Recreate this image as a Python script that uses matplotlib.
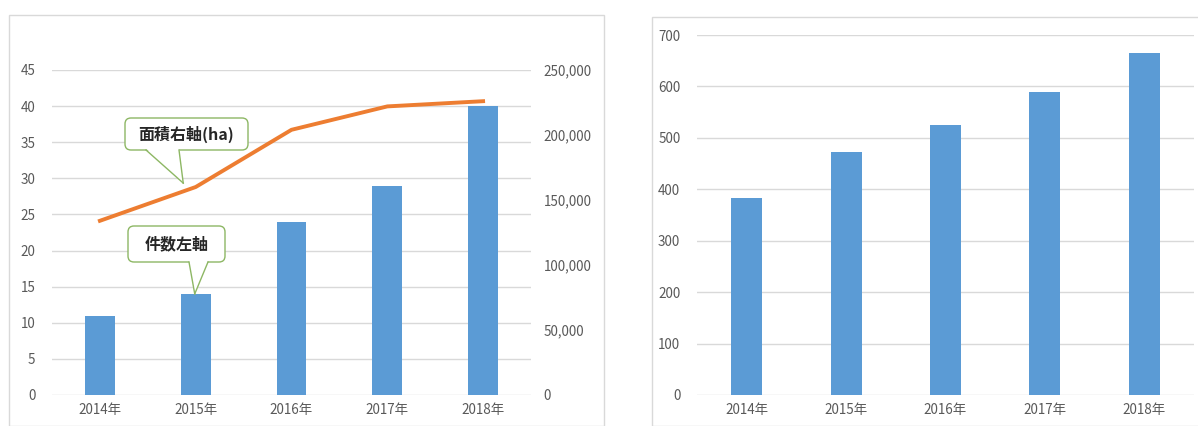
import matplotlib.pyplot as plt
from matplotlib.patches import Rectangle, FancyBboxPatch, Polygon
from matplotlib.lines import Line2D
from matplotlib.transforms import IdentityTransform
from matplotlib.ticker import FuncFormatter
import numpy as np

plt.rcParams['font.family'] = ['Noto Sans CJK JP', 'DejaVu Sans']

years = ['2014年', '2015年', '2016年', '2017年', '2018年']
counts = [11, 14, 24, 29, 40]                          # 件数 (左軸)
area = [134000, 160000, 204000, 222000, 226000]        # 面積 ha (右軸)
right_values = [384, 473, 525, 589, 665]

bar_color = '#5B9BD5'
line_color = '#ED7D31'
grid_color = '#D9D9D9'
text_color = '#595959'
callout_edge = '#8DB764'

fig = plt.figure(figsize=(11.98, 4.26), dpi=100)
W, H = 1198, 426
px = IdentityTransform()  # 画素座標 (dpi=100)

# 外枠
fig.patches.append(Rectangle((9 / W, 0), 595 / W, (H - 15) / H, transform=fig.transFigure,
                             fill=False, ec=grid_color, lw=1))
fig.patches.append(Rectangle((652 / W, 0), 560 / W, (H - 17) / H, transform=fig.transFigure,
                             fill=False, ec=grid_color, lw=1))

x = np.arange(len(years))


def style_axes(a):
    for s in a.spines.values():
        s.set_visible(False)
    a.tick_params(length=0, colors=text_color, labelsize=9.7)
    a.yaxis.grid(True, color=grid_color, lw=1)
    a.set_axisbelow(True)


def callout(text, box, base, tip):
    """Excel風の吹き出し。box=(x0, y0, w, h) 画素, base=(x左, x右), tip=画素座標"""
    x0, y0, w, h = box
    fig.add_artist(FancyBboxPatch((x0, y0), w, h, boxstyle='round,pad=0,rounding_size=6',
                                  fc='white', ec=callout_edge, lw=1, transform=px, zorder=5))
    fig.add_artist(Polygon([(base[0], y0 + 1.5), (base[1], y0 + 1.5), tip], closed=True,
                           fc='white', ec='none', transform=px, zorder=6))
    for bx_ in base:
        fig.add_artist(Line2D([bx_, tip[0]], [y0, tip[1]], color=callout_edge, lw=1,
                              transform=px, zorder=6))
    fig.text(x0 + w / 2, y0 + h / 2, text, transform=px, ha='center', va='center',
             fontsize=11.5, fontweight='bold', color='#262626', zorder=7)


# ---- 左のグラフ ----
ax = fig.add_axes([52 / W, 31 / H, 479 / W, 325 / H])
style_axes(ax)
ax.bar(x, counts, width=0.31, color=bar_color)
ax.set_ylim(0, 45)
ax.set_yticks(np.arange(0, 46, 5))
ax.set_xlim(-0.5, len(years) - 0.5)
ax.set_xticks(x)
ax.set_xticklabels(years)
ax.tick_params(axis='y', pad=12)
ax.tick_params(axis='x', pad=6)

ax2 = ax.twinx()
for s in ax2.spines.values():
    s.set_visible(False)
ax2.plot(x, area, color=line_color, lw=2.8, zorder=3)
ax2.set_ylim(0, 250000)
ax2.set_xlim(-0.5, len(years) - 0.5)
ax2.set_yticks(np.arange(0, 250001, 50000))
ax2.yaxis.set_major_formatter(FuncFormatter(lambda v, p: f'{int(v):,}'))
ax2.tick_params(length=0, colors=text_color, labelsize=9.7, pad=9)

tip_area = ax2.transData.transform((0.87, 163000))
tip_count = ax.transData.transform((0.99, counts[1]))
callout('面積右軸(ha)', (125, 276, 123, 32), (146, 179), tip_area)
callout('件数左軸', (128, 164, 97, 36), (189, 208), tip_count)

# ---- 右のグラフ ----
bx = fig.add_axes([697 / W, 31 / H, 497 / W, 360 / H])
style_axes(bx)
bx.bar(x, right_values, width=0.31, color=bar_color)
bx.set_ylim(0, 700)
bx.set_yticks(np.arange(0, 701, 100))
bx.set_xlim(-0.5, len(years) - 0.5)
bx.set_xticks(x)
bx.set_xticklabels(years)
bx.tick_params(axis='y', pad=12)
bx.tick_params(axis='x', pad=6)

fig.savefig('out.png', dpi=100)
plt.close('all')
